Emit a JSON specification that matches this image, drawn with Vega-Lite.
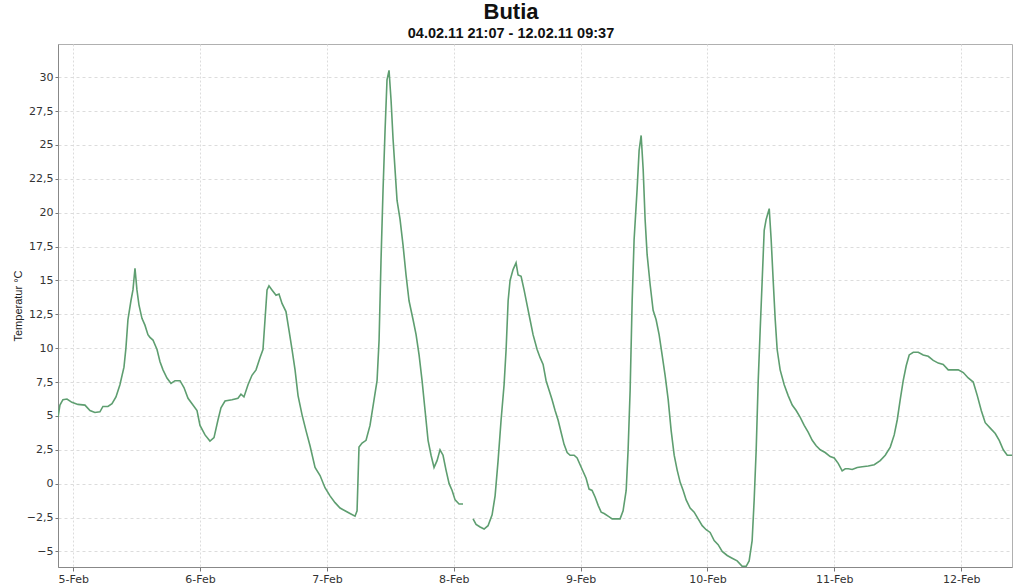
{
  "$schema": "https://vega.github.io/schema/vega-lite/v6.json",
  "width": 954,
  "height": 523,
  "autosize": {"type": "none"},
  "padding": {"left": 58, "top": 44, "right": 10, "bottom": 21},
  "config": {
    "locale": {"number": {"decimal": ",", "thousands": ".", "grouping": [3], "currency": ["", " €"]}},
    "view": {"stroke": "#b0b0b0", "strokeWidth": 1},
    "font": "Liberation Sans"
  },
  "title": {
    "text": "Butia",
    "subtitle": "04.02.11 21:07 - 12.02.11 09:37",
    "fontSize": 22,
    "fontWeight": "bold",
    "font": "Liberation Sans",
    "subtitleFont": "Liberation Sans",
    "subtitleFontSize": 14.5,
    "subtitleFontWeight": "bold",
    "subtitleColor": "#111",
    "color": "#111",
    "anchor": "middle",
    "dx": -24,
    "offset": 3,
    "subtitlePadding": 3
  },
  "data": {
    "values": [
      {"t": "2011-02-04T21:07", "v": 4.9, "s": 1},
      {"t": "2011-02-04T21:29", "v": 5.8, "s": 1},
      {"t": "2011-02-04T22:03", "v": 6.2, "s": 1},
      {"t": "2011-02-04T22:49", "v": 6.25, "s": 1},
      {"t": "2011-02-04T23:45", "v": 6.0, "s": 1},
      {"t": "2011-02-05T00:53", "v": 5.85, "s": 1},
      {"t": "2011-02-05T02:13", "v": 5.8, "s": 1},
      {"t": "2011-02-05T03:10", "v": 5.4, "s": 1},
      {"t": "2011-02-05T04:06", "v": 5.25, "s": 1},
      {"t": "2011-02-05T05:03", "v": 5.3, "s": 1},
      {"t": "2011-02-05T05:37", "v": 5.7, "s": 1},
      {"t": "2011-02-05T06:34", "v": 5.7, "s": 1},
      {"t": "2011-02-05T07:20", "v": 5.9, "s": 1},
      {"t": "2011-02-05T08:05", "v": 6.4, "s": 1},
      {"t": "2011-02-05T08:50", "v": 7.3, "s": 1},
      {"t": "2011-02-05T09:36", "v": 8.6, "s": 1},
      {"t": "2011-02-05T09:58", "v": 10.0, "s": 1},
      {"t": "2011-02-05T10:21", "v": 12.1, "s": 1},
      {"t": "2011-02-05T10:55", "v": 13.5, "s": 1},
      {"t": "2011-02-05T11:18", "v": 14.3, "s": 1},
      {"t": "2011-02-05T11:41", "v": 15.9, "s": 1},
      {"t": "2011-02-05T12:03", "v": 14.3, "s": 1},
      {"t": "2011-02-05T12:26", "v": 13.2, "s": 1},
      {"t": "2011-02-05T13:00", "v": 12.2, "s": 1},
      {"t": "2011-02-05T13:34", "v": 11.7, "s": 1},
      {"t": "2011-02-05T14:08", "v": 11.0, "s": 1},
      {"t": "2011-02-05T14:31", "v": 10.8, "s": 1},
      {"t": "2011-02-05T15:05", "v": 10.6, "s": 1},
      {"t": "2011-02-05T15:51", "v": 9.9, "s": 1},
      {"t": "2011-02-05T16:25", "v": 9.0, "s": 1},
      {"t": "2011-02-05T16:59", "v": 8.4, "s": 1},
      {"t": "2011-02-05T17:44", "v": 7.8, "s": 1},
      {"t": "2011-02-05T18:30", "v": 7.4, "s": 1},
      {"t": "2011-02-05T19:15", "v": 7.6, "s": 1},
      {"t": "2011-02-05T20:12", "v": 7.6, "s": 1},
      {"t": "2011-02-05T20:57", "v": 7.1, "s": 1},
      {"t": "2011-02-05T21:43", "v": 6.3, "s": 1},
      {"t": "2011-02-05T22:39", "v": 5.8, "s": 1},
      {"t": "2011-02-05T23:25", "v": 5.4, "s": 1},
      {"t": "2011-02-05T23:59", "v": 4.3, "s": 1},
      {"t": "2011-02-06T00:56", "v": 3.6, "s": 1},
      {"t": "2011-02-06T01:52", "v": 3.15, "s": 1},
      {"t": "2011-02-06T02:38", "v": 3.4, "s": 1},
      {"t": "2011-02-06T03:23", "v": 4.7, "s": 1},
      {"t": "2011-02-06T03:57", "v": 5.6, "s": 1},
      {"t": "2011-02-06T04:43", "v": 6.1, "s": 1},
      {"t": "2011-02-06T06:02", "v": 6.2, "s": 1},
      {"t": "2011-02-06T07:10", "v": 6.3, "s": 1},
      {"t": "2011-02-06T07:44", "v": 6.6, "s": 1},
      {"t": "2011-02-06T08:18", "v": 6.4, "s": 1},
      {"t": "2011-02-06T09:04", "v": 7.3, "s": 1},
      {"t": "2011-02-06T09:49", "v": 8.0, "s": 1},
      {"t": "2011-02-06T10:35", "v": 8.4, "s": 1},
      {"t": "2011-02-06T11:20", "v": 9.3, "s": 1},
      {"t": "2011-02-06T11:54", "v": 9.9, "s": 1},
      {"t": "2011-02-06T12:17", "v": 12.1, "s": 1},
      {"t": "2011-02-06T12:40", "v": 14.3, "s": 1},
      {"t": "2011-02-06T13:02", "v": 14.6, "s": 1},
      {"t": "2011-02-06T13:36", "v": 14.3, "s": 1},
      {"t": "2011-02-06T14:22", "v": 13.9, "s": 1},
      {"t": "2011-02-06T14:56", "v": 14.0, "s": 1},
      {"t": "2011-02-06T15:30", "v": 13.3, "s": 1},
      {"t": "2011-02-06T16:15", "v": 12.7, "s": 1},
      {"t": "2011-02-06T16:50", "v": 11.3, "s": 1},
      {"t": "2011-02-06T17:24", "v": 9.9, "s": 1},
      {"t": "2011-02-06T17:58", "v": 8.4, "s": 1},
      {"t": "2011-02-06T18:32", "v": 6.5, "s": 1},
      {"t": "2011-02-06T19:17", "v": 5.1, "s": 1},
      {"t": "2011-02-06T20:03", "v": 3.9, "s": 1},
      {"t": "2011-02-06T20:48", "v": 2.8, "s": 1},
      {"t": "2011-02-06T21:45", "v": 1.2, "s": 1},
      {"t": "2011-02-06T22:42", "v": 0.6, "s": 1},
      {"t": "2011-02-06T23:38", "v": -0.3, "s": 1},
      {"t": "2011-02-07T00:35", "v": -0.9, "s": 1},
      {"t": "2011-02-07T01:32", "v": -1.4, "s": 1},
      {"t": "2011-02-07T02:29", "v": -1.8, "s": 1},
      {"t": "2011-02-07T03:25", "v": -2.0, "s": 1},
      {"t": "2011-02-07T04:22", "v": -2.2, "s": 1},
      {"t": "2011-02-07T05:19", "v": -2.4, "s": 1},
      {"t": "2011-02-07T05:42", "v": -2.0, "s": 1},
      {"t": "2011-02-07T06:04", "v": 2.7, "s": 1},
      {"t": "2011-02-07T06:39", "v": 3.0, "s": 1},
      {"t": "2011-02-07T07:24", "v": 3.2, "s": 1},
      {"t": "2011-02-07T08:09", "v": 4.3, "s": 1},
      {"t": "2011-02-07T08:55", "v": 6.2, "s": 1},
      {"t": "2011-02-07T09:29", "v": 7.6, "s": 1},
      {"t": "2011-02-07T09:52", "v": 10.6, "s": 1},
      {"t": "2011-02-07T10:14", "v": 16.5, "s": 1},
      {"t": "2011-02-07T10:37", "v": 21.7, "s": 1},
      {"t": "2011-02-07T11:00", "v": 26.1, "s": 1},
      {"t": "2011-02-07T11:22", "v": 29.8, "s": 1},
      {"t": "2011-02-07T11:45", "v": 30.5, "s": 1},
      {"t": "2011-02-07T12:08", "v": 28.3, "s": 1},
      {"t": "2011-02-07T12:31", "v": 25.4, "s": 1},
      {"t": "2011-02-07T12:53", "v": 23.2, "s": 1},
      {"t": "2011-02-07T13:16", "v": 20.9, "s": 1},
      {"t": "2011-02-07T13:50", "v": 19.5, "s": 1},
      {"t": "2011-02-07T14:24", "v": 17.6, "s": 1},
      {"t": "2011-02-07T14:58", "v": 15.4, "s": 1},
      {"t": "2011-02-07T15:32", "v": 13.5, "s": 1},
      {"t": "2011-02-07T16:18", "v": 12.1, "s": 1},
      {"t": "2011-02-07T16:52", "v": 11.0, "s": 1},
      {"t": "2011-02-07T17:26", "v": 9.5, "s": 1},
      {"t": "2011-02-07T18:00", "v": 7.6, "s": 1},
      {"t": "2011-02-07T18:34", "v": 5.4, "s": 1},
      {"t": "2011-02-07T19:08", "v": 3.2, "s": 1},
      {"t": "2011-02-07T19:42", "v": 2.1, "s": 1},
      {"t": "2011-02-07T20:16", "v": 1.2, "s": 1},
      {"t": "2011-02-07T20:50", "v": 1.7, "s": 1},
      {"t": "2011-02-07T21:24", "v": 2.5, "s": 1},
      {"t": "2011-02-07T21:58", "v": 2.1, "s": 1},
      {"t": "2011-02-07T22:32", "v": 1.0, "s": 1},
      {"t": "2011-02-07T23:07", "v": 0.0, "s": 1},
      {"t": "2011-02-07T23:41", "v": -0.5, "s": 1},
      {"t": "2011-02-08T00:15", "v": -1.2, "s": 1},
      {"t": "2011-02-08T01:00", "v": -1.5, "s": 1},
      {"t": "2011-02-08T01:45", "v": -1.5, "s": 1},
      {"t": "2011-02-08T03:39", "v": -2.6, "s": 2},
      {"t": "2011-02-08T04:13", "v": -3.0, "s": 2},
      {"t": "2011-02-08T04:59", "v": -3.2, "s": 2},
      {"t": "2011-02-08T05:44", "v": -3.35, "s": 2},
      {"t": "2011-02-08T06:29", "v": -3.1, "s": 2},
      {"t": "2011-02-08T07:15", "v": -2.3, "s": 2},
      {"t": "2011-02-08T07:49", "v": -0.9, "s": 2},
      {"t": "2011-02-08T08:23", "v": 1.7, "s": 2},
      {"t": "2011-02-08T08:57", "v": 4.7, "s": 2},
      {"t": "2011-02-08T09:31", "v": 7.3, "s": 2},
      {"t": "2011-02-08T09:54", "v": 9.9, "s": 2},
      {"t": "2011-02-08T10:17", "v": 13.5, "s": 2},
      {"t": "2011-02-08T10:39", "v": 15.0, "s": 2},
      {"t": "2011-02-08T11:13", "v": 15.8, "s": 2},
      {"t": "2011-02-08T11:47", "v": 16.3, "s": 2},
      {"t": "2011-02-08T12:10", "v": 15.4, "s": 2},
      {"t": "2011-02-08T12:44", "v": 15.3, "s": 2},
      {"t": "2011-02-08T13:18", "v": 14.3, "s": 2},
      {"t": "2011-02-08T13:52", "v": 13.2, "s": 2},
      {"t": "2011-02-08T14:26", "v": 12.1, "s": 2},
      {"t": "2011-02-08T15:00", "v": 11.0, "s": 2},
      {"t": "2011-02-08T15:46", "v": 9.9, "s": 2},
      {"t": "2011-02-08T16:20", "v": 9.3, "s": 2},
      {"t": "2011-02-08T16:54", "v": 8.8, "s": 2},
      {"t": "2011-02-08T17:28", "v": 7.6, "s": 2},
      {"t": "2011-02-08T18:02", "v": 6.9, "s": 2},
      {"t": "2011-02-08T18:36", "v": 6.2, "s": 2},
      {"t": "2011-02-08T19:10", "v": 5.4, "s": 2},
      {"t": "2011-02-08T19:44", "v": 4.7, "s": 2},
      {"t": "2011-02-08T20:18", "v": 3.8, "s": 2},
      {"t": "2011-02-08T20:52", "v": 2.9, "s": 2},
      {"t": "2011-02-08T21:27", "v": 2.3, "s": 2},
      {"t": "2011-02-08T22:01", "v": 2.1, "s": 2},
      {"t": "2011-02-08T22:46", "v": 2.1, "s": 2},
      {"t": "2011-02-08T23:20", "v": 1.9, "s": 2},
      {"t": "2011-02-08T23:54", "v": 1.4, "s": 2},
      {"t": "2011-02-09T00:28", "v": 0.9, "s": 2},
      {"t": "2011-02-09T01:02", "v": 0.4, "s": 2},
      {"t": "2011-02-09T01:36", "v": -0.4, "s": 2},
      {"t": "2011-02-09T02:10", "v": -0.5, "s": 2},
      {"t": "2011-02-09T02:45", "v": -1.0, "s": 2},
      {"t": "2011-02-09T03:19", "v": -1.6, "s": 2},
      {"t": "2011-02-09T03:53", "v": -2.1, "s": 2},
      {"t": "2011-02-09T04:27", "v": -2.2, "s": 2},
      {"t": "2011-02-09T05:12", "v": -2.4, "s": 2},
      {"t": "2011-02-09T05:58", "v": -2.6, "s": 2},
      {"t": "2011-02-09T06:43", "v": -2.6, "s": 2},
      {"t": "2011-02-09T07:28", "v": -2.6, "s": 2},
      {"t": "2011-02-09T08:02", "v": -2.0, "s": 2},
      {"t": "2011-02-09T08:37", "v": -0.5, "s": 2},
      {"t": "2011-02-09T08:59", "v": 2.5, "s": 2},
      {"t": "2011-02-09T09:22", "v": 6.9, "s": 2},
      {"t": "2011-02-09T09:45", "v": 13.5, "s": 2},
      {"t": "2011-02-09T10:07", "v": 18.0, "s": 2},
      {"t": "2011-02-09T10:41", "v": 21.7, "s": 2},
      {"t": "2011-02-09T11:04", "v": 24.6, "s": 2},
      {"t": "2011-02-09T11:27", "v": 25.7, "s": 2},
      {"t": "2011-02-09T11:50", "v": 23.2, "s": 2},
      {"t": "2011-02-09T12:12", "v": 19.5, "s": 2},
      {"t": "2011-02-09T12:35", "v": 16.9, "s": 2},
      {"t": "2011-02-09T13:09", "v": 14.7, "s": 2},
      {"t": "2011-02-09T13:43", "v": 12.8, "s": 2},
      {"t": "2011-02-09T14:17", "v": 12.1, "s": 2},
      {"t": "2011-02-09T14:51", "v": 11.0, "s": 2},
      {"t": "2011-02-09T15:25", "v": 9.5, "s": 2},
      {"t": "2011-02-09T15:59", "v": 8.0, "s": 2},
      {"t": "2011-02-09T16:34", "v": 6.2, "s": 2},
      {"t": "2011-02-09T17:08", "v": 3.9, "s": 2},
      {"t": "2011-02-09T17:42", "v": 2.1, "s": 2},
      {"t": "2011-02-09T18:16", "v": 1.0, "s": 2},
      {"t": "2011-02-09T18:50", "v": 0.1, "s": 2},
      {"t": "2011-02-09T19:24", "v": -0.5, "s": 2},
      {"t": "2011-02-09T19:58", "v": -1.2, "s": 2},
      {"t": "2011-02-09T20:43", "v": -1.8, "s": 2},
      {"t": "2011-02-09T21:29", "v": -2.1, "s": 2},
      {"t": "2011-02-09T22:14", "v": -2.6, "s": 2},
      {"t": "2011-02-09T23:00", "v": -3.1, "s": 2},
      {"t": "2011-02-09T23:45", "v": -3.4, "s": 2},
      {"t": "2011-02-10T00:30", "v": -3.6, "s": 2},
      {"t": "2011-02-10T01:16", "v": -4.2, "s": 2},
      {"t": "2011-02-10T02:01", "v": -4.5, "s": 2},
      {"t": "2011-02-10T02:47", "v": -5.0, "s": 2},
      {"t": "2011-02-10T03:44", "v": -5.3, "s": 2},
      {"t": "2011-02-10T04:40", "v": -5.5, "s": 2},
      {"t": "2011-02-10T05:37", "v": -5.7, "s": 2},
      {"t": "2011-02-10T06:34", "v": -6.1, "s": 2},
      {"t": "2011-02-10T07:19", "v": -6.1, "s": 2},
      {"t": "2011-02-10T07:53", "v": -5.7, "s": 2},
      {"t": "2011-02-10T08:27", "v": -4.2, "s": 2},
      {"t": "2011-02-10T08:50", "v": -1.2, "s": 2},
      {"t": "2011-02-10T09:13", "v": 2.5, "s": 2},
      {"t": "2011-02-10T09:36", "v": 7.6, "s": 2},
      {"t": "2011-02-10T09:58", "v": 11.3, "s": 2},
      {"t": "2011-02-10T10:21", "v": 15.0, "s": 2},
      {"t": "2011-02-10T10:44", "v": 18.7, "s": 2},
      {"t": "2011-02-10T11:06", "v": 19.5, "s": 2},
      {"t": "2011-02-10T11:41", "v": 20.3, "s": 2},
      {"t": "2011-02-10T12:03", "v": 18.0, "s": 2},
      {"t": "2011-02-10T12:26", "v": 15.0, "s": 2},
      {"t": "2011-02-10T12:49", "v": 12.1, "s": 2},
      {"t": "2011-02-10T13:11", "v": 9.9, "s": 2},
      {"t": "2011-02-10T13:45", "v": 8.4, "s": 2},
      {"t": "2011-02-10T14:31", "v": 7.3, "s": 2},
      {"t": "2011-02-10T15:16", "v": 6.5, "s": 2},
      {"t": "2011-02-10T16:02", "v": 5.8, "s": 2},
      {"t": "2011-02-10T16:47", "v": 5.4, "s": 2},
      {"t": "2011-02-10T17:33", "v": 4.9, "s": 2},
      {"t": "2011-02-10T18:18", "v": 4.3, "s": 2},
      {"t": "2011-02-10T19:03", "v": 3.8, "s": 2},
      {"t": "2011-02-10T19:49", "v": 3.2, "s": 2},
      {"t": "2011-02-10T20:34", "v": 2.8, "s": 2},
      {"t": "2011-02-10T21:20", "v": 2.5, "s": 2},
      {"t": "2011-02-10T22:16", "v": 2.3, "s": 2},
      {"t": "2011-02-10T23:13", "v": 2.0, "s": 2},
      {"t": "2011-02-10T23:59", "v": 1.9, "s": 2},
      {"t": "2011-02-11T00:44", "v": 1.5, "s": 2},
      {"t": "2011-02-11T01:29", "v": 0.95, "s": 2},
      {"t": "2011-02-11T02:04", "v": 1.1, "s": 2},
      {"t": "2011-02-11T02:38", "v": 1.1, "s": 2},
      {"t": "2011-02-11T03:23", "v": 1.05, "s": 2},
      {"t": "2011-02-11T04:20", "v": 1.2, "s": 2},
      {"t": "2011-02-11T05:17", "v": 1.25, "s": 2},
      {"t": "2011-02-11T06:25", "v": 1.3, "s": 2},
      {"t": "2011-02-11T07:33", "v": 1.4, "s": 2},
      {"t": "2011-02-11T08:41", "v": 1.7, "s": 2},
      {"t": "2011-02-11T09:38", "v": 2.1, "s": 2},
      {"t": "2011-02-11T10:35", "v": 2.7, "s": 2},
      {"t": "2011-02-11T11:20", "v": 3.6, "s": 2},
      {"t": "2011-02-11T11:54", "v": 4.7, "s": 2},
      {"t": "2011-02-11T12:28", "v": 6.2, "s": 2},
      {"t": "2011-02-11T13:02", "v": 7.6, "s": 2},
      {"t": "2011-02-11T13:36", "v": 8.7, "s": 2},
      {"t": "2011-02-11T14:10", "v": 9.5, "s": 2},
      {"t": "2011-02-11T14:56", "v": 9.7, "s": 2},
      {"t": "2011-02-11T15:53", "v": 9.7, "s": 2},
      {"t": "2011-02-11T16:49", "v": 9.5, "s": 2},
      {"t": "2011-02-11T17:46", "v": 9.4, "s": 2},
      {"t": "2011-02-11T18:43", "v": 9.1, "s": 2},
      {"t": "2011-02-11T19:40", "v": 8.9, "s": 2},
      {"t": "2011-02-11T20:36", "v": 8.8, "s": 2},
      {"t": "2011-02-11T21:33", "v": 8.4, "s": 2},
      {"t": "2011-02-11T22:19", "v": 8.4, "s": 2},
      {"t": "2011-02-11T23:27", "v": 8.4, "s": 2},
      {"t": "2011-02-12T00:24", "v": 8.2, "s": 2},
      {"t": "2011-02-12T01:20", "v": 7.8, "s": 2},
      {"t": "2011-02-12T02:17", "v": 7.5, "s": 2},
      {"t": "2011-02-12T03:03", "v": 6.5, "s": 2},
      {"t": "2011-02-12T03:48", "v": 5.4, "s": 2},
      {"t": "2011-02-12T04:33", "v": 4.5, "s": 2},
      {"t": "2011-02-12T05:30", "v": 4.1, "s": 2},
      {"t": "2011-02-12T06:27", "v": 3.7, "s": 2},
      {"t": "2011-02-12T07:12", "v": 3.2, "s": 2},
      {"t": "2011-02-12T07:58", "v": 2.5, "s": 2},
      {"t": "2011-02-12T08:43", "v": 2.1, "s": 2},
      {"t": "2011-02-12T09:37", "v": 2.1, "s": 2}
    ]
  },
  "mark": {"type": "line", "color": "#5e9e70", "strokeWidth": 1.6, "clip": true},
  "encoding": {
    "x": {
      "field": "t",
      "type": "temporal",
      "scale": {
        "domain": [
          {"year": 2011, "month": 2, "date": 4, "hours": 21, "minutes": 7},
          {"year": 2011, "month": 2, "date": 12, "hours": 9, "minutes": 37}
        ],
        "nice": false
      },
      "axis": {
        "title": null,
        "values": [
          {"year": 2011, "month": 2, "date": 5},
          {"year": 2011, "month": 2, "date": 6},
          {"year": 2011, "month": 2, "date": 7},
          {"year": 2011, "month": 2, "date": 8},
          {"year": 2011, "month": 2, "date": 9},
          {"year": 2011, "month": 2, "date": 10},
          {"year": 2011, "month": 2, "date": 11},
          {"year": 2011, "month": 2, "date": 12}
        ],
        "format": "%-d-%b",
        "labelFont": "DejaVu Sans",
        "labelFontSize": 11,
        "labelColor": "#333",
        "labelPadding": 2,
        "tickSize": 4,
        "tickColor": "#777",
        "domainColor": "#888",
        "grid": true,
        "gridColor": "#dcdcdc",
        "gridDash": [2, 2],
        "labelFlush": false
      }
    },
    "y": {
      "field": "v",
      "type": "quantitative",
      "scale": {"domain": [-6.15, 32.45], "nice": false, "zero": false},
      "axis": {
        "title": "Temperatur °C",
        "titleFont": "Liberation Sans",
        "titleFontSize": 11,
        "titleFontWeight": "normal",
        "titleColor": "#222",
        "titlePadding": 3,
        "values": [-5, -2.5, 0, 2.5, 5, 7.5, 10, 12.5, 15, 17.5, 20, 22.5, 25, 27.5, 30],
        "format": ".1~f",
        "labelFont": "DejaVu Sans",
        "labelFontSize": 11,
        "labelColor": "#333",
        "labelPadding": 2,
        "tickSize": 3,
        "tickColor": "#777",
        "domainColor": "#888",
        "grid": true,
        "gridColor": "#dcdcdc",
        "gridDash": [3, 3]
      }
    },
    "detail": {"field": "s", "type": "nominal"}
  }
}
